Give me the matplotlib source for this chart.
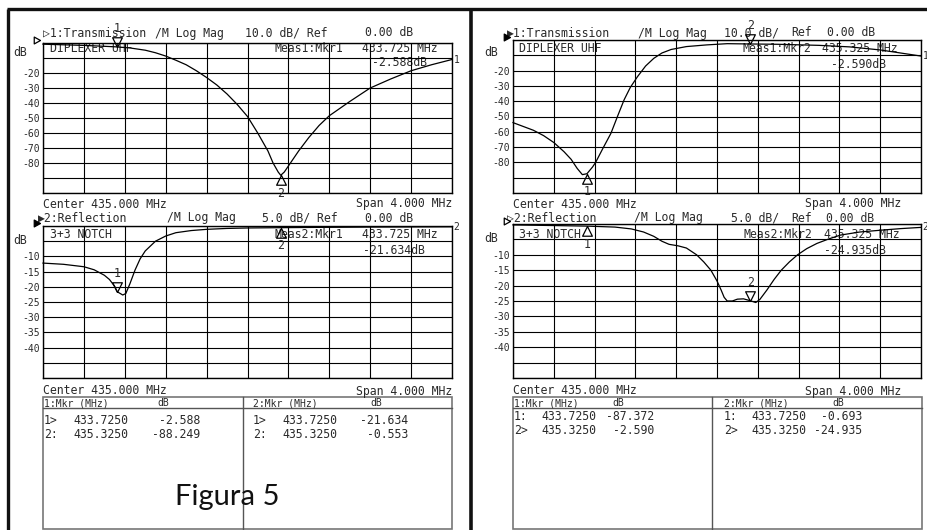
import matplotlib

matplotlib.use("Agg")
import matplotlib.pyplot as plt
from matplotlib.patches import Rectangle
import matplotlib.transforms as mtransforms
import numpy as np

# frequency axis of every trace: center 435 MHz, span 4 MHz
f_start, f_stop = 433.0, 437.0
mkr_freq = [433.725, 435.325]

# left screen, channel 1: transmission (dB)
tl_f = [433.00, 433.20, 433.40, 433.60, 433.725, 433.85, 434.00, 434.10, 434.20,
        434.30, 434.40, 434.50, 434.60, 434.70, 434.80, 434.90, 435.00, 435.10,
        435.20, 435.25, 435.30, 435.325, 435.36, 435.42, 435.45, 435.50, 435.60,
        435.70, 435.80, 436.00, 436.20, 436.40, 436.60, 436.80, 437.00]
tl_db = [-0.8, -1.2, -1.6, -2.2, -2.6, -3.3, -4.8, -6.5, -8.7,
         -11.5, -14.5, -18.5, -23.0, -28.0, -34.0, -41.0, -49.0, -60.0,
         -72.0, -80.0, -86.0, -88.2, -86.0, -80.0, -77.0, -72.0, -63.0,
         -55.0, -48.5, -39.0, -30.0, -24.0, -18.5, -14.5, -11.0]
tl_mkr = [-2.588, -88.249]

# left screen, channel 2: reflection (dB)
bl_f = [433.00, 433.20, 433.40, 433.50, 433.60, 433.65, 433.70, 433.725, 433.78,
        433.81, 433.85, 433.90, 433.95, 434.00, 434.10, 434.20, 434.30, 434.45,
        434.60, 434.80, 435.00, 435.325, 435.70, 436.20, 437.00]
bl_db = [-12.2, -12.6, -13.4, -14.4, -16.2, -17.6, -19.8, -21.6, -22.7,
         -22.2, -19.0, -14.5, -10.8, -8.2, -5.0, -3.3, -2.2, -1.5,
         -1.1, -0.8, -0.65, -0.55, -0.45, -0.35, -0.25]
bl_mkr = [-21.634, -0.553]

# right screen, channel 1: transmission (dB)
tr_f = [433.00, 433.10, 433.20, 433.30, 433.40, 433.50, 433.57, 433.63, 433.68,
        433.725, 433.78, 433.81, 433.88, 433.96, 434.03, 434.09, 434.15, 434.22,
        434.30, 434.38, 434.46, 434.55, 434.70, 434.90, 435.10, 435.325, 435.60,
        436.00, 436.30, 436.60, 436.80, 437.00]
tr_db = [-54.0, -56.5, -59.0, -62.5, -67.0, -73.0, -78.0, -84.0, -88.0,
         -87.4, -83.0, -80.0, -71.0, -61.0, -49.0, -39.0, -31.0, -24.0,
         -17.0, -12.0, -8.5, -6.2, -4.3, -3.2, -2.4, -2.6, -2.8,
         -3.5, -4.5, -6.5, -8.5, -10.5]
tr_mkr = [-87.372, -2.590]

# right screen, channel 2: reflection (dB)
br_f = [433.00, 433.30, 433.725, 434.00, 434.16, 434.28, 434.38, 434.46, 434.53,
        434.62, 434.70, 434.80, 434.87, 434.94, 435.00, 435.04, 435.07, 435.10,
        435.15, 435.20, 435.26, 435.325, 435.38, 435.42, 435.49, 435.56, 435.63,
        435.71, 435.79, 435.88, 435.98, 436.10, 436.21, 436.40, 436.61, 436.80,
        437.00]
br_db = [-0.3, -0.45, -0.69, -1.0, -1.6, -2.6, -4.0, -5.6, -6.6,
         -7.1, -7.8, -10.0, -12.3, -15.0, -18.5, -21.4, -23.8, -25.0,
         -25.0, -24.4, -24.3, -24.9, -25.5, -24.5, -21.4, -18.0, -15.0,
         -12.3, -10.0, -8.0, -6.3, -4.8, -3.6, -2.6, -2.0, -1.5,
         -1.1]
br_mkr = [-0.693, -24.935]

W, H = 928, 530
MONO = ["DejaVu Sans Mono", "DejaVu Sans"]
TXT = "#2a2a2a"
FS = 8.3

fig = plt.figure(figsize=(W / 100, H / 100), dpi=100)
ov = fig.add_axes([0, 0, 1, 1])
ov.set_xlim(0, W)
ov.set_ylim(H, 0)
ov.axis("off")


def t(x, y, s, ha="left", size=FS):
    ov.text(x, y, s, ha=ha, va="center", fontsize=size, family=MONO, color=TXT)


def screen(box, bottom, step, f, db, mkr, active, end_lbl, ref_filled):
    x0, y0, x1, y1 = box
    ax = fig.add_axes([x0 / W, 1 - y1 / H, (x1 - x0) / W, (y1 - y0) / H])
    ax.set_facecolor("none")
    ax.set_xlim(f_start, f_stop)
    ax.set_ylim(bottom, 0)
    ax.set_xticks(np.linspace(f_start, f_stop, 11))
    yt = np.arange(bottom, 0.1, step)
    ax.set_yticks(yt)
    skip = (0, -step, bottom, bottom + step)
    labels = ["" if v in skip else f"{int(v)}" for v in yt]
    ax.set_yticklabels(labels, family=MONO, fontsize=7, color=TXT)
    ax.tick_params(length=0, labelbottom=False, pad=2)
    ax.grid(True, color="black", lw=0.8)
    for s in ax.spines.values():
        s.set_linewidth(1.0)
    ax.plot(f, db, color="black", lw=0.9, clip_on=False)
    down = [(0, 0), (-0.5, 1), (0.5, 1), (0, 0)]
    up = [(0, 0), (-0.5, -1), (0.5, -1), (0, 0)]
    for i, (mf, mv) in enumerate(zip(mkr_freq, mkr)):
        shape, dy = (down, 13) if i == active else (up, -13)
        ax.plot([mf], [mv], marker=shape, ms=14, mfc="none", mec="black", mew=0.9, clip_on=False)
        ax.annotate(str(i + 1), (mf, mv), xytext=(0, dy), textcoords="offset points",
                    ha="center", va="center", fontsize=FS, family=MONO, color=TXT,
                    annotation_clip=False)
    ax.annotate(end_lbl, (f[-1], db[-1]), xytext=(1, 0), textcoords="offset points",
                ha="left", va="center", fontsize=7, family=MONO, color=TXT,
                annotation_clip=False)
    ref = [(0, 0), (-1, 0.55), (-1, -0.55), (0, 0)]
    off = mtransforms.offset_copy(ax.transData, fig=fig, x=-3, y=3, units="dots")
    ax.plot([f_start], [0], marker=ref, ms=9, mfc="black" if ref_filled else "white",
            mec="black", mew=0.9, clip_on=False, transform=off)
    return ax


# left screen
screen((43, 43, 452, 193), -100, 10, tl_f, tl_db, tl_mkr, 0, "1", False)
screen((43, 226, 452, 378), -50, 5, bl_f, bl_db, bl_mkr, 0, "2", True)
# right screen
screen((513, 40, 921, 193), -100, 10, tr_f, tr_db, tr_mkr, 1, "1", True)
screen((513, 224, 921, 378), -50, 5, br_f, br_db, br_mkr, 1, "2", False)

# header / annotation texts, left screen
t(43, 33, "\u25b71:Transmission")
t(155, 33, "/M Log Mag")
t(245, 33, "10.0 dB/ Ref")
t(365, 33, "0.00 dB")
t(50, 48, "DIPLEXER UHF")
t(275, 48, "Meas1:Mkr1")
t(362, 48, "433.725 MHz")
t(372, 62, "-2.588dB")
t(13, 53, "dB")
t(43, 204, "Center 435.000 MHz")
t(452, 204, "Span 4.000 MHz", ha="right")
t(38, 218, "\u25b62:Reflection")
t(167, 218, "/M Log Mag")
t(262, 218, "5.0 dB/ Ref")
t(365, 218, "0.00 dB")
t(50, 235, "3+3 NOTCH")
t(275, 235, "Meas2:Mkr1")
t(362, 235, "433.725 MHz")
t(363, 250, "-21.634dB")
t(13, 240, "dB")
t(43, 391, "Center 435.000 MHz")
t(452, 391, "Span 4.000 MHz", ha="right")

# header / annotation texts, right screen
t(507, 33, "\u25b61:Transmission")
t(638, 33, "/M Log Mag")
t(724, 33, "10.0 dB/")
t(791, 33, "Ref")
t(827, 33, "0.00 dB")
t(519, 48, "DIPLEXER UHF")
t(743, 48, "Meas1:Mkr2")
t(822, 48, "435.325 MHz")
t(831, 64, "-2.590dB")
t(484, 53, "dB")
t(513, 204, "Center 435.000 MHz")
t(901, 204, "Span 4.000 MHz", ha="right")
t(507, 218, "\u25b72:Reflection")
t(634, 218, "/M Log Mag")
t(731, 218, "5.0 dB/")
t(791, 218, "Ref")
t(826, 218, "0.00 dB")
t(519, 234, "3+3 NOTCH")
t(744, 234, "Meas2:Mkr2")
t(824, 234, "435.325 MHz")
t(824, 250, "-24.935dB")
t(484, 239, "dB")
t(513, 391, "Center 435.000 MHz")
t(901, 391, "Span 4.000 MHz", ha="right")

# marker tables
tables = [
    (43, 243, 452, 403, 420, 434,
     ["1>", "2:"], ["433.7250", "435.3250"], ["-2.588", "-88.249"],
     ["1>", "2:"], ["433.7250", "435.3250"], ["-21.634", "-0.553"],
     (44, 73, 200, 253, 282, 408), (157, 370)),
    (513, 712, 922, 403, 417, 431,
     ["1:", "2>"], ["433.7250", "435.3250"], ["-87.372", "-2.590"],
     ["1:", "2>"], ["433.7250", "435.3250"], ["-0.693", "-24.935"],
     (514, 541, 654, 724, 751, 862), (612, 832)),
]
for (xa, xm, xb, yh, r1, r2, la, fa, da, lb, fb, dbb, c, dbx) in tables:
    ov.add_patch(Rectangle((xa, 397), xb - xa, 132, fill=False, ec="#777777", lw=1.2))
    ov.plot([xm, xm], [397, 529], color="#555555", lw=1.0)
    ov.plot([xa, xb], [408, 408], color="#555555", lw=1.0)
    t(c[0], yh, "1:Mkr (MHz)", size=7)
    t(dbx[0], yh, "dB", size=7)
    t(c[3], yh, "2:Mkr (MHz)", size=7)
    t(dbx[1], yh, "dB", size=7)
    for k, yy in enumerate([r1, r2]):
        t(c[0], yy, la[k])
        t(c[1], yy, fa[k])
        t(c[2], yy, da[k], ha="right")
        t(c[3], yy, lb[k])
        t(c[4], yy, fb[k])
        t(c[5], yy, dbb[k], ha="right")

ov.text(227, 497, "Figura 5", ha="center", va="center", fontsize=21, family="Lato", color="#111111")

# thick screen frame
ov.plot([7, W], [9, 9], color="#111111", lw=2.4, solid_capstyle="butt")
ov.plot([8, 8], [9, H], color="#111111", lw=2.4, solid_capstyle="butt")
ov.plot([471, 471], [9, H], color="#111111", lw=2.6, solid_capstyle="butt")

fig.savefig("out.png", dpi=100)
